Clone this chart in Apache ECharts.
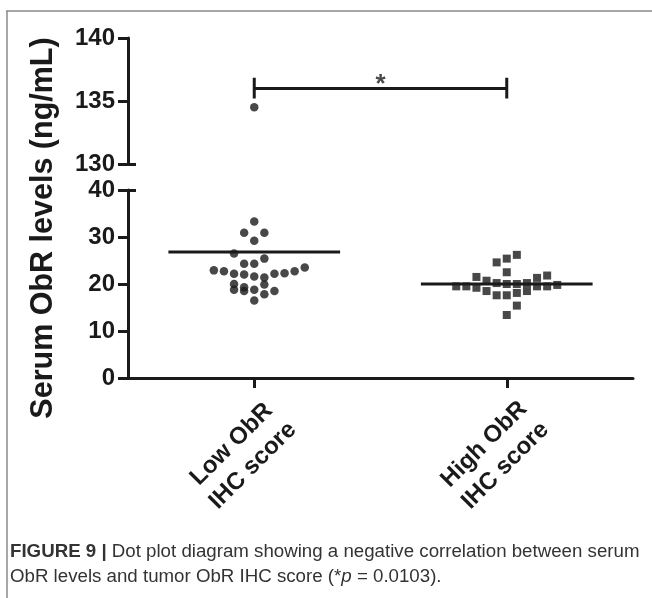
<!DOCTYPE html>
<html>
<head>
<meta charset="utf-8">
<script src="https://cdn.jsdelivr.net/npm/echarts@6/dist/echarts.min.js"></script>
<style>
html,body{margin:0;padding:0;background:#fff;}
#chart{width:652px;height:598px;}
</style>
</head>
<body>
<div id="chart"></div>
<script>
// ---- data ----
var categories = ['Low ObR\nIHC score', 'High ObR\nIHC score'];
var lowValues  = [33.3, 30.9, 30.9, 29.2, 26.5, 25.4, 24.3, 24.3, 22.9, 22.7, 22.2, 22.0, 21.6, 21.4, 22.2, 22.3, 22.7, 23.5, 20.0, 18.8, 19.3, 18.5, 18.8, 19.9, 17.8, 18.5, 16.5];
var lowJitter  = [0, -0.04, 0.04, 0, -0.08, 0.04, -0.04, 0, -0.16, -0.12, -0.08, -0.04, 0, 0.04, 0.08, 0.12, 0.16, 0.2, -0.08, -0.08, -0.04, -0.04, 0, 0.04, 0.04, 0.08, 0];
var lowOutliers = [134.5];
var highValues = [26.2, 25.4, 24.6, 22.5, 21.5, 21.3, 21.8, 20.7, 19.5, 19.5, 19.2, 20.2, 20.0, 20.0, 20.2, 19.5, 19.5, 19.8, 18.5, 17.6, 17.6, 18.1, 18.5, 15.4, 13.4];
var highJitter = [0.04, 0, -0.04, 0, -0.12, 0.12, 0.16, -0.08, -0.2, -0.16, -0.12, -0.04, 0, 0.04, 0.08, 0.12, 0.16, 0.2, -0.08, -0.04, 0, 0.04, 0.08, 0.04, 0];
var meanValues = [26.8, 20.0];
var meanHalfWidth = 0.34;
var upperTicks = [130, 135, 140];
var lowerTicks = [0, 10, 20, 30, 40];
var bracketY = 136.0, bracketLow = 135.2, bracketHigh = 136.85;
var sigLabel = '*';
var yTitle = 'Serum ObR levels (ng/mL)';

var INK = '#1a1a1a';
var FONT = '"Liberation Sans", Arial, Helvetica, sans-serif';

function pts(vals, jit, center) {
  return vals.map(function (v, i) { return [center + jit[i], v]; });
}

var chart = echarts.init(document.getElementById('chart'), null, {renderer: 'canvas'});

var axisLineStyle = {color: INK, width: 3};
var tickLabel = {color: INK, fontSize: 24, fontWeight: 'bold', fontFamily: FONT, margin: 13};

var option = {
  animation: false,
  backgroundColor: '#fff',
  title: {
    left: 10, top: 539, padding: 0,
    text: '{b|FIGURE 9 |} Dot plot diagram showing a negative correlation between serum\nObR levels and tumor ObR IHC score (*{i|p} = 0.0103).',
    textStyle: {
      fontFamily: FONT, fontSize: 18.7, fontWeight: 'normal', color: '#333', lineHeight: 25,
      rich: {
        b: {fontFamily: FONT, fontSize: 18.7, fontWeight: 'bold', color: '#333', lineHeight: 25},
        i: {fontFamily: FONT, fontSize: 18.7, fontStyle: 'italic', color: '#333', lineHeight: 25}
      }
    }
  },
  graphic: [
    {type: 'line', shape: {x1: 6, y1: 11, x2: 652, y2: 11}, style: {stroke: '#8a8a8a', lineWidth: 1.5}},
    {type: 'line', shape: {x1: 7, y1: 11, x2: 7, y2: 598}, style: {stroke: '#8a8a8a', lineWidth: 1.5}},
    {type: 'text', x: 44, y: 228, rotation: Math.PI / 2,
     style: {text: yTitle, fontFamily: FONT, fontSize: 30.5, fontWeight: 'bold', fill: INK, align: 'center', verticalAlign: 'middle'}}
  ],
  grid: [
    {left: 128, right: 19, top: 38, height: 126},
    {left: 128, right: 19, top: 190, height: 188}
  ],
  xAxis: [
    {gridIndex: 0, type: 'value', min: 0.5, max: 2.5, show: false},
    {gridIndex: 1, type: 'value', min: 0.5, max: 2.5, show: false},
    {gridIndex: 1, type: 'category', data: categories, boundaryGap: true, position: 'bottom',
     axisLine: {show: true, lineStyle: axisLineStyle},
     axisTick: {show: true, alignWithLabel: true, length: 10, lineStyle: {color: INK, width: 3}},
     axisLabel: {interval: 0, rotate: 45, color: INK, fontSize: 24, fontWeight: 'bold', fontFamily: FONT,
                 lineHeight: 30, margin: 65, align: 'center', verticalAlign: 'middle', padding: [0, 34, 0, 0]},
     splitLine: {show: false}}
  ],
  yAxis: [
    {gridIndex: 0, type: 'value', min: upperTicks[0], max: upperTicks[upperTicks.length - 1], interval: 5,
     axisLine: {show: true, lineStyle: axisLineStyle},
     axisTick: {show: true, length: 10, lineStyle: {color: INK, width: 3}},
     axisLabel: tickLabel, splitLine: {show: false}},
    {gridIndex: 1, type: 'value', min: lowerTicks[0], max: lowerTicks[lowerTicks.length - 1], interval: 10,
     axisLine: {show: true, lineStyle: axisLineStyle},
     axisTick: {show: true, length: 10, lineStyle: {color: INK, width: 3}},
     axisLabel: tickLabel, splitLine: {show: false}},
    {gridIndex: 0, type: 'value', min: upperTicks[0], max: upperTicks[upperTicks.length - 1], position: 'left',
     axisLine: {show: false}, axisLabel: {show: false}, splitLine: {show: false},
     axisTick: {show: true, inside: true, length: 8, customValues: [upperTicks[0]], lineStyle: {color: INK, width: 3}}},
    {gridIndex: 1, type: 'value', min: lowerTicks[0], max: lowerTicks[lowerTicks.length - 1], position: 'left',
     axisLine: {show: false}, axisLabel: {show: false}, splitLine: {show: false},
     axisTick: {show: true, inside: true, length: 8, customValues: [lowerTicks[lowerTicks.length - 1]], lineStyle: {color: INK, width: 3}}}
  ],
  series: [
    {type: 'scatter', xAxisIndex: 1, yAxisIndex: 1, symbol: 'circle', symbolSize: 8.5,
     itemStyle: {color: INK}, data: pts(lowValues, lowJitter, 1)},
    {type: 'scatter', xAxisIndex: 0, yAxisIndex: 0, symbol: 'circle', symbolSize: 8.5,
     itemStyle: {color: INK}, data: lowOutliers.map(function (v) { return [1, v]; })},
    {type: 'scatter', xAxisIndex: 1, yAxisIndex: 1, symbol: 'rect', symbolSize: 8,
     itemStyle: {color: INK}, data: pts(highValues, highJitter, 2)},
    {type: 'line', xAxisIndex: 1, yAxisIndex: 1, symbol: 'none', lineStyle: {color: INK, width: 3},
     data: [[1 - meanHalfWidth, meanValues[0]], [1 + meanHalfWidth, meanValues[0]]], z: 1},
    {type: 'line', xAxisIndex: 1, yAxisIndex: 1, symbol: 'none', lineStyle: {color: INK, width: 3},
     data: [[2 - meanHalfWidth, meanValues[1]], [2 + meanHalfWidth, meanValues[1]]], z: 1},
    // significance bracket
    {type: 'line', xAxisIndex: 0, yAxisIndex: 0, symbol: 'none', lineStyle: {color: INK, width: 3},
     data: [[1, bracketY], [2, bracketY]]},
    {type: 'line', xAxisIndex: 0, yAxisIndex: 0, symbol: 'none', lineStyle: {color: INK, width: 3},
     data: [[1, bracketLow], [1, bracketHigh]]},
    {type: 'line', xAxisIndex: 0, yAxisIndex: 0, symbol: 'none', lineStyle: {color: INK, width: 3},
     data: [[2, bracketLow], [2, bracketHigh]]},
    {type: 'scatter', xAxisIndex: 0, yAxisIndex: 0, symbolSize: 0, silent: true,
     label: {show: true, position: 'top', distance: -9, formatter: sigLabel, color: INK, fontSize: 26, fontWeight: 'bold', fontFamily: FONT},
     data: [[1.5, bracketY]]}
  ]
};
chart.setOption(option);
</script>
</body>
</html>
